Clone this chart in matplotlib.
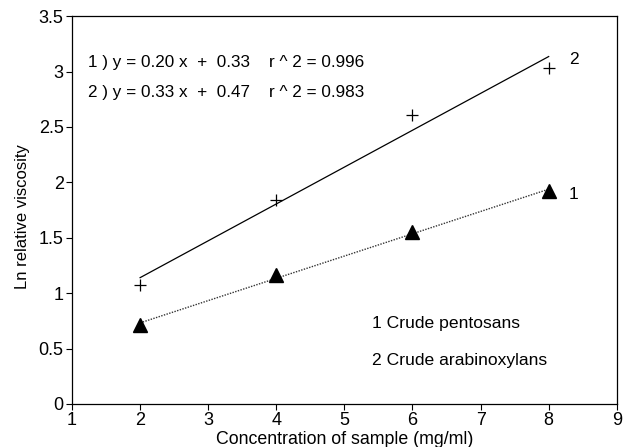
import numpy as np
import matplotlib
matplotlib.use("Agg")
import matplotlib.pyplot as plt

plt.rcParams['font.family'] = ['Liberation Sans', 'DejaVu Sans']

# concentration (mg/ml)
conc = [2, 4, 6, 8]
# 1 Crude pentosans
pentosans = [0.71, 1.16, 1.55, 1.92]
# 2 Crude arabinoxylans
arabinoxylans = [1.07, 1.84, 2.61, 3.03]

eq_lines = ["1 ) y = 0.20 x  +  0.33    r ^ 2 = 0.996",
            "2 ) y = 0.33 x  +  0.47    r ^ 2 = 0.983"]
legend_lines = ["1 Crude pentosans", "2 Crude arabinoxylans"]

fig = plt.figure(figsize=(6.23, 4.47), dpi=100)
ax = fig.add_axes([0.1156, 0.0962, 0.8744, 0.8678])

x = np.array(conc, dtype=float)
# regression lines
fit1 = np.polyfit(x, pentosans, 1)
fit2 = np.polyfit(x, arabinoxylans, 1)
xl = np.array([x[0], x[-1]])

ax.plot(xl, np.polyval(fit1, xl), linestyle=(0, (1, 1)), color='#333333', linewidth=1)
ax.plot(xl, np.polyval(fit2, xl), linestyle='-', color='black', linewidth=0.9)
ax.plot(x, pentosans, linestyle='none', marker='^', color='black', markersize=10)
ax.plot(x, arabinoxylans, linestyle='none', marker='+', color='black',
        markersize=8, markeredgewidth=0.9)

# line labels at the right end
ax.text(8.3, 3.106, "2", fontsize=12.5, va='center', ha='left')
ax.text(8.3, 1.894, "1", fontsize=12.5, va='center', ha='left')

for i, s in enumerate(eq_lines):
    ax.text(1.23, 3.08 - i * 0.265, s, fontsize=12.3, va='center', ha='left')
ax.text(5.41, 0.73, legend_lines[0], fontsize=12.6, va='center', ha='left')
ax.text(5.41, 0.395, legend_lines[1], fontsize=12.6, va='center', ha='left')

ax.set_xlim(1, 9)
ax.set_ylim(0, 3.5)
ax.set_xticks(range(1, 10))
ax.set_yticks([0, 0.5, 1, 1.5, 2, 2.5, 3, 3.5])
ax.set_yticklabels(['0', '0.5', '1', '1.5', '2', '2.5', '3', '3.5'])
ax.tick_params(direction='out', length=4, labelsize=13, width=0.8, pad=2)
for sp in ax.spines.values():
    sp.set_linewidth(0.9)

ax.set_xlabel("Concentration of sample (mg/ml)", fontsize=12.8, labelpad=1)
ax.set_ylabel("Ln relative viscosity", fontsize=12, labelpad=4)
ax.yaxis.set_label_coords(-0.077, 0.482)

fig.savefig("out.png", dpi=100)
